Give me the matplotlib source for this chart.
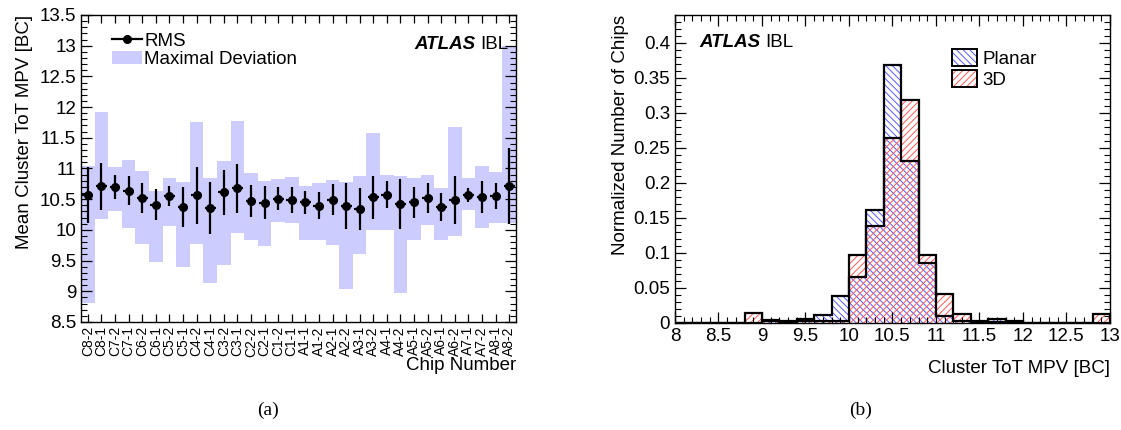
import matplotlib
matplotlib.use("Agg")
import matplotlib.pyplot as plt
import numpy as np
from matplotlib.lines import Line2D
from matplotlib.patches import Patch
from matplotlib.ticker import MultipleLocator, FormatStrFormatter

plt.rcParams['font.family'] = ['Liberation Sans', 'DejaVu Sans']
plt.rcParams['hatch.linewidth'] = 0.7

# (a) per chip mean MPV, RMS and min/max
chips = ["C8-2", "C8-1", "C7-2", "C7-1", "C6-2", "C6-1", "C5-2", "C5-1",
         "C4-2", "C4-1", "C3-2", "C3-1", "C2-2", "C2-1", "C1-2", "C1-1",
         "A1-1", "A1-2", "A2-1", "A2-2", "A3-1", "A3-2", "A4-1", "A4-2",
         "A5-1", "A5-2", "A6-1", "A6-2", "A7-1", "A7-2", "A8-1", "A8-2"]
mean_mpv = [10.57, 10.71, 10.70, 10.64, 10.52, 10.41, 10.55, 10.37,
            10.56, 10.36, 10.61, 10.68, 10.47, 10.44, 10.51, 10.49,
            10.45, 10.39, 10.49, 10.39, 10.34, 10.53, 10.57, 10.42,
            10.45, 10.52, 10.37, 10.48, 10.57, 10.53, 10.55, 10.72]
rms = [0.46, 0.38, 0.19, 0.23, 0.24, 0.25, 0.16, 0.33,
       0.46, 0.42, 0.36, 0.40, 0.26, 0.27, 0.19, 0.21,
       0.19, 0.22, 0.25, 0.38, 0.34, 0.35, 0.22, 0.41,
       0.25, 0.25, 0.23, 0.39, 0.12, 0.26, 0.21, 0.62]
dev_min = [8.81, 10.18, 10.31, 10.03, 9.77, 9.47, 10.06, 9.39,
           9.77, 9.14, 9.43, 9.95, 9.84, 9.73, 10.13, 10.12,
           9.84, 9.84, 9.76, 9.04, 9.61, 10.00, 10.00, 8.97,
           9.83, 10.08, 9.83, 9.90, 10.32, 10.03, 10.12, 10.11]
dev_max = [11.04, 11.92, 11.02, 11.13, 10.96, 10.64, 10.85, 10.78,
           11.75, 10.85, 11.12, 11.77, 10.92, 10.79, 10.83, 10.86,
           10.71, 10.76, 10.81, 10.78, 10.88, 11.57, 10.90, 10.88,
           10.84, 10.90, 10.69, 11.67, 10.84, 11.04, 10.94, 13.00]

# (b) normalized histogram of cluster ToT MPV, bins of 0.2 BC from 8 to 13
bin_edges = [8.0, 8.2, 8.4, 8.6, 8.8, 9.0, 9.2, 9.4, 9.6, 9.8, 10.0, 10.2, 10.4,
             10.6, 10.8, 11.0, 11.2, 11.4, 11.6, 11.8, 12.0, 12.2, 12.4, 12.6, 12.8, 13.0]
planar = [0, 0, 0, 0, 0, 0.004, 0.002, 0.005, 0.011, 0.038, 0.065, 0.161, 0.368,
          0.231, 0.085, 0.010, 0.003, 0.001, 0.005, 0.001, 0, 0, 0, 0, 0]
threed = [0, 0, 0, 0, 0.014, 0.002, 0.0, 0.002, 0.003, 0.003, 0.097, 0.139, 0.264,
          0.319, 0.097, 0.041, 0.013, 0.002, 0.001, 0.002, 0, 0, 0, 0, 0.013]

band_col = (0.80, 0.80, 1.0)
blue_h = (0.35, 0.35, 1.0)
red_h = (1.0, 0.35, 0.35)
FS = 13.5

fig = plt.figure(figsize=(11.21, 4.30), dpi=100)

def root_ticks(ax):
    ax.tick_params(which='both', direction='in', top=True, right=True)
    ax.tick_params(which='major', length=8, width=0.9, labelsize=13.5)
    ax.tick_params(which='minor', length=4, width=0.8)
    for s in ax.spines.values():
        s.set_linewidth(1.0)

# ---- panel (a)
ax1 = fig.add_axes([0.0723, 0.2512, 0.388, 0.714])
x = np.arange(len(chips))
lo = np.array(dev_min)
hi = np.array(dev_max)
ax1.bar(x, hi - lo, bottom=lo, width=1.0, color=band_col, edgecolor='none')
ax1.errorbar(x, mean_mpv, yerr=rms, xerr=0.4, fmt='o', color='black',
             ms=5.5, elinewidth=1.6, capsize=0)
ax1.set_xlim(-0.5, len(chips) - 0.5)
ax1.set_ylim(8.5, 13.5)
ax1.set_xticks(x)
ax1.set_xticklabels(chips, rotation=90)
ax1.yaxis.set_major_locator(MultipleLocator(0.5))
ax1.yaxis.set_minor_locator(MultipleLocator(0.1))
ax1.yaxis.set_major_formatter(FormatStrFormatter('%g'))
root_ticks(ax1)
ax1.tick_params(axis='x', which='major', length=6, labelsize=10, pad=3)
ax1.set_ylabel("Mean Cluster ToT MPV [BC]", fontsize=FS, loc='top', labelpad=5)
ax1.set_xlabel("Chip Number", fontsize=FS, loc='right', labelpad=0)

handles = [Line2D([], [], color='black', marker='o', ms=5.5, lw=1.6),
           Patch(facecolor=band_col, edgecolor='none')]
ax1.legend(handles, ["RMS", "Maximal Deviation"], loc='upper left',
           bbox_to_anchor=(0.04, 0.985), frameon=False, fontsize=FS,
           handlelength=1.6, handletextpad=0.15, labelspacing=0.05, borderpad=0.2)

ibl1 = ax1.text(0.982, 0.905, "IBL", transform=ax1.transAxes, fontsize=FS,
                ha='right', va='center')
ax1.annotate("ATLAS", xy=(0, 0), xycoords=ibl1, xytext=(-3, 0),
             textcoords='offset points', ha='right', va='bottom',
             fontsize=FS, fontweight='bold', fontstyle='italic')

# ---- panel (b)
ax2 = fig.add_axes([0.6021, 0.2495, 0.388, 0.7156])
edges = np.array(bin_edges)
widths = np.diff(edges)
ax2.bar(edges[:-1], planar, width=widths, align='edge', facecolor='none',
        edgecolor=blue_h, hatch='\\\\\\\\\\', linewidth=0)
ax2.bar(edges[:-1], threed, width=widths, align='edge', facecolor='none',
        edgecolor=red_h, hatch='/////', linewidth=0)
ax2.stairs(planar, edges, color='black', linewidth=1.6)
ax2.stairs(threed, edges, color='black', linewidth=1.6)
ax2.set_xlim(8, 13)
ax2.set_ylim(0, 0.44)
ax2.xaxis.set_major_locator(MultipleLocator(0.5))
ax2.xaxis.set_minor_locator(MultipleLocator(0.1))
ax2.yaxis.set_major_locator(MultipleLocator(0.05))
ax2.yaxis.set_minor_locator(MultipleLocator(0.01))
ax2.xaxis.set_major_formatter(FormatStrFormatter('%g'))
ax2.yaxis.set_major_formatter(FormatStrFormatter('%g'))
root_ticks(ax2)
ax2.set_ylabel("Normalized Number of Chips", fontsize=FS, loc='top', labelpad=3)
ax2.set_xlabel("Cluster ToT MPV [BC]", fontsize=FS, loc='right', labelpad=11)

leg_handles = [(Patch(facecolor='white', edgecolor=blue_h, hatch='\\\\\\\\\\', lw=0),
                Patch(facecolor='none', edgecolor='black', lw=1.4)),
               (Patch(facecolor='white', edgecolor=red_h, hatch='/////', lw=0),
                Patch(facecolor='none', edgecolor='black', lw=1.4))]
ax2.legend(leg_handles, ["Planar", "3D"], loc='upper left',
           bbox_to_anchor=(0.61, 0.925), frameon=False, fontsize=FS,
           handlelength=1.35, handleheight=1.0, handletextpad=0.3,
           labelspacing=0.1, borderpad=0.1)

atl2 = ax2.text(0.057, 0.912, "ATLAS", transform=ax2.transAxes, fontsize=FS,
                fontweight='bold', fontstyle='italic', ha='left', va='center')
ax2.annotate("IBL", xy=(1, 0), xycoords=atl2, xytext=(3, 0),
             textcoords='offset points', ha='left', va='bottom', fontsize=FS)

fig.text(268 / 1121, 1 - 410 / 430, "(a)", family='Liberation Serif',
         fontsize=14, ha='center', va='center')
fig.text(861 / 1121, 1 - 410 / 430, "(b)", family='Liberation Serif',
         fontsize=14, ha='center', va='center')

fig.savefig("out.png", dpi=100)
